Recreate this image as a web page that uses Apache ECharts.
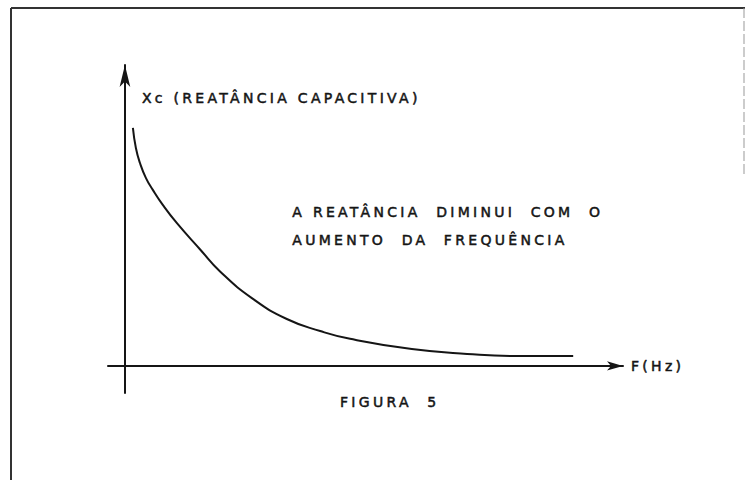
<!DOCTYPE html>
<html>
<head>
<meta charset="utf-8">
<script src="https://cdn.jsdelivr.net/npm/echarts@6/dist/echarts.min.js"></script>
<style>
  html, body { margin: 0; padding: 0; background: #fff; }
  #chart { width: 745px; height: 480px; }
  /* lettering-guide look: wide letter spacing */
  #chart text { letter-spacing: 3.3px; }
</style>
</head>
<body>
<div id="chart"></div>
<script>
// frequency (arbitrary units) and capacitive reactance
const freq = [1.6, 2.2, 3.0, 4.2, 5.6, 7.6, 10.4, 15.1, 19.1, 25.7, 32.5, 39.2, 45.2, 57.6, 68.7, 79.3, 90.0];
const reactance = [79.1, 72.4, 67.5, 62.5, 58.5, 53.5, 47.5, 38.7, 31.4, 22.3, 15.6, 11.6, 9.0, 5.6, 4.0, 3.3, 3.3];

const yLabel = 'Xc (REATÂNCIA CAPACITIVA)';
const xLabel = 'F(Hz)';
const note = ['A REATÂNCIA  DIMINUI  COM  O', 'AUMENTO  DA  FREQUÊNCIA'];
const caption = 'FIGURA  5';

const ink = '#151515';
const font = 'DejaVu Sans';
// a thin outline thickens the strokes a little, like pen lettering
const textStyle = { color: ink, fontSize: 14, fontFamily: font, textBorderColor: ink, textBorderWidth: 0.5 };

const chart = echarts.init(document.getElementById('chart'), null, { renderer: 'svg' });

chart.setOption({
    backgroundColor: '#fff',
    animation: false,
    title: {
        text: caption,
        left: 335,
        top: 390,
        textStyle: Object.assign({ fontWeight: 'normal' }, textStyle)
    },
    grid: { left: 108, right: 122, top: 65, bottom: 87 },
    xAxis: {
        type: 'value',
        min: -3.4,
        max: 100,
        name: xLabel,
        nameLocation: 'end',
        nameGap: 8,
        nameTextStyle: Object.assign({ align: 'left', verticalAlign: 'middle' }, textStyle),
        axisLine: { onZero: true, symbol: ['none', 'arrow'], symbolSize: [7, 16], lineStyle: { color: ink, width: 2 } },
        axisTick: { show: false },
        axisLabel: { show: false },
        splitLine: { show: false }
    },
    yAxis: {
        type: 'value',
        min: -9,
        max: 100,
        name: yLabel,
        nameLocation: 'end',
        nameGap: -33,
        nameTextStyle: Object.assign({ align: 'left', verticalAlign: 'middle', padding: [0, 0, 0, 17] }, textStyle),
        axisLine: { onZero: true, symbol: ['none', 'arrow'], symbolSize: [8, 22], lineStyle: { color: ink, width: 2 } },
        axisTick: { show: false },
        axisLabel: { show: false },
        splitLine: { show: false }
    },
    graphic: [
        // frame of the scanned figure
        { type: 'line', shape: { x1: 11, y1: 8, x2: 745, y2: 8 }, style: { stroke: '#333', lineWidth: 2 } },
        { type: 'line', shape: { x1: 11, y1: 8, x2: 11, y2: 480 }, style: { stroke: '#333', lineWidth: 2 } },
        { type: 'line', shape: { x1: 744, y1: 8, x2: 744, y2: 175 }, style: { stroke: '#999', lineWidth: 1, lineDash: [10, 3] } },
        {
            type: 'text',
            left: 292,
            top: 198,
            style: {
                text: note.join('\n'),
                fill: ink,
                stroke: ink,
                lineWidth: 0.5,
                font: '14px "' + font + '"',
                lineHeight: 28
            }
        }
    ],
    series: [{
        type: 'line',
        smooth: 0.5,
        showSymbol: false,
        lineStyle: { color: ink, width: 2 },
        data: freq.map((f, i) => [f, reactance[i]])
    }]
});
</script>
</body>
</html>
